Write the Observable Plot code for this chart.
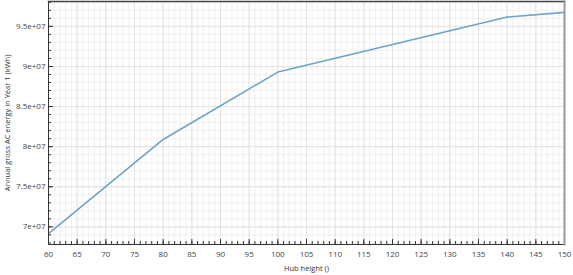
<!DOCTYPE html>
<html>
<head>
<meta charset="utf-8">
<script src="https://cdn.jsdelivr.net/npm/d3@7"></script>
<script src="https://cdn.jsdelivr.net/npm/@observablehq/plot@0.6"></script>
<style>
  html, body { margin: 0; padding: 0; background: #fff; }
  #chart { width: 573px; height: 275px; }
</style>
</head>
<body>
<div id="chart"></div>
<script>
const hubHeight = [60, 80, 100, 140, 150];
const energy = [69.17e6, 80.9e6, 89.3e6, 96.16e6, 96.74e6];
const xMajorTicks = d3.range(60, 151, 5);
const xMinorTicks = d3.range(60, 151, 1);
const yMajorTicks = [70e6, 75e6, 80e6, 85e6, 90e6, 95e6];
const yMinorTicks = d3.range(68e6, 98.1e6, 1e6);

const data = hubHeight.map((h, i) => ({h, e: energy[i]}));
const fmtY = v => {
  const [m, e] = v.toExponential().split("e");
  return m + "e" + e[0] + e.slice(1).padStart(2, "0");
};
const font = "'Open Sans', 'Noto Sans', sans-serif";

const chart = Plot.plot({
  width: 573,
  height: 275,
  marginLeft: 48,
  marginRight: 9,
  marginTop: 1,
  marginBottom: 31,
  style: {fontFamily: font, fontSize: "8px", color: "#444", background: "#fff"},
  x: {domain: [60, 150]},
  y: {domain: [67.8e6, 98.1e6]},
  marks: [
    Plot.gridX(xMinorTicks, {stroke: "#f0f0f0", strokeOpacity: 1}),
    Plot.gridY(yMinorTicks, {stroke: "#f0f0f0", strokeOpacity: 1}),
    Plot.gridX(xMajorTicks, {stroke: "#e2e2e2", strokeOpacity: 1}),
    Plot.gridY(yMajorTicks, {stroke: "#e2e2e2", strokeOpacity: 1}),
    Plot.line(data, {x: "h", y: "e", stroke: "#6ea3c8", strokeWidth: 1.6}),
    Plot.axisX(xMinorTicks, {tickSize: -3, text: null, label: null, stroke: "#333"}),
    Plot.axisX(xMajorTicks, {tickSize: -5, tickPadding: 12, stroke: "#333", fill: "#444", fontSize: 8, label: null}),
    Plot.axisY(yMinorTicks, {tickSize: -3, text: null, label: null, stroke: "#333"}),
    Plot.axisY(yMajorTicks, {tickSize: -5, tickPadding: 8, tickFormat: fmtY, stroke: "#333", fill: "#444", fontSize: 8, label: null}),
    Plot.axisX({ticks: [], label: "Hub height ()", labelAnchor: "center", labelArrow: "none", labelOffset: 26, fontSize: 7.5, fill: "#333"}),
    Plot.axisY({ticks: [], label: "Annual gross AC energy in Year 1 (kWh)", labelAnchor: "center", labelArrow: "none", labelOffset: 44, fontSize: 7.5, fill: "#333"}),
    Plot.frame({anchor: "left", stroke: "#333"}),
    Plot.frame({anchor: "bottom", stroke: "#333"}),
    Plot.frame({anchor: "top", stroke: "#444", strokeWidth: 1.5}),
    Plot.frame({anchor: "right", stroke: "#999", strokeWidth: 2})
  ]
});
document.getElementById("chart").appendChild(chart);
</script>
</body>
</html>
